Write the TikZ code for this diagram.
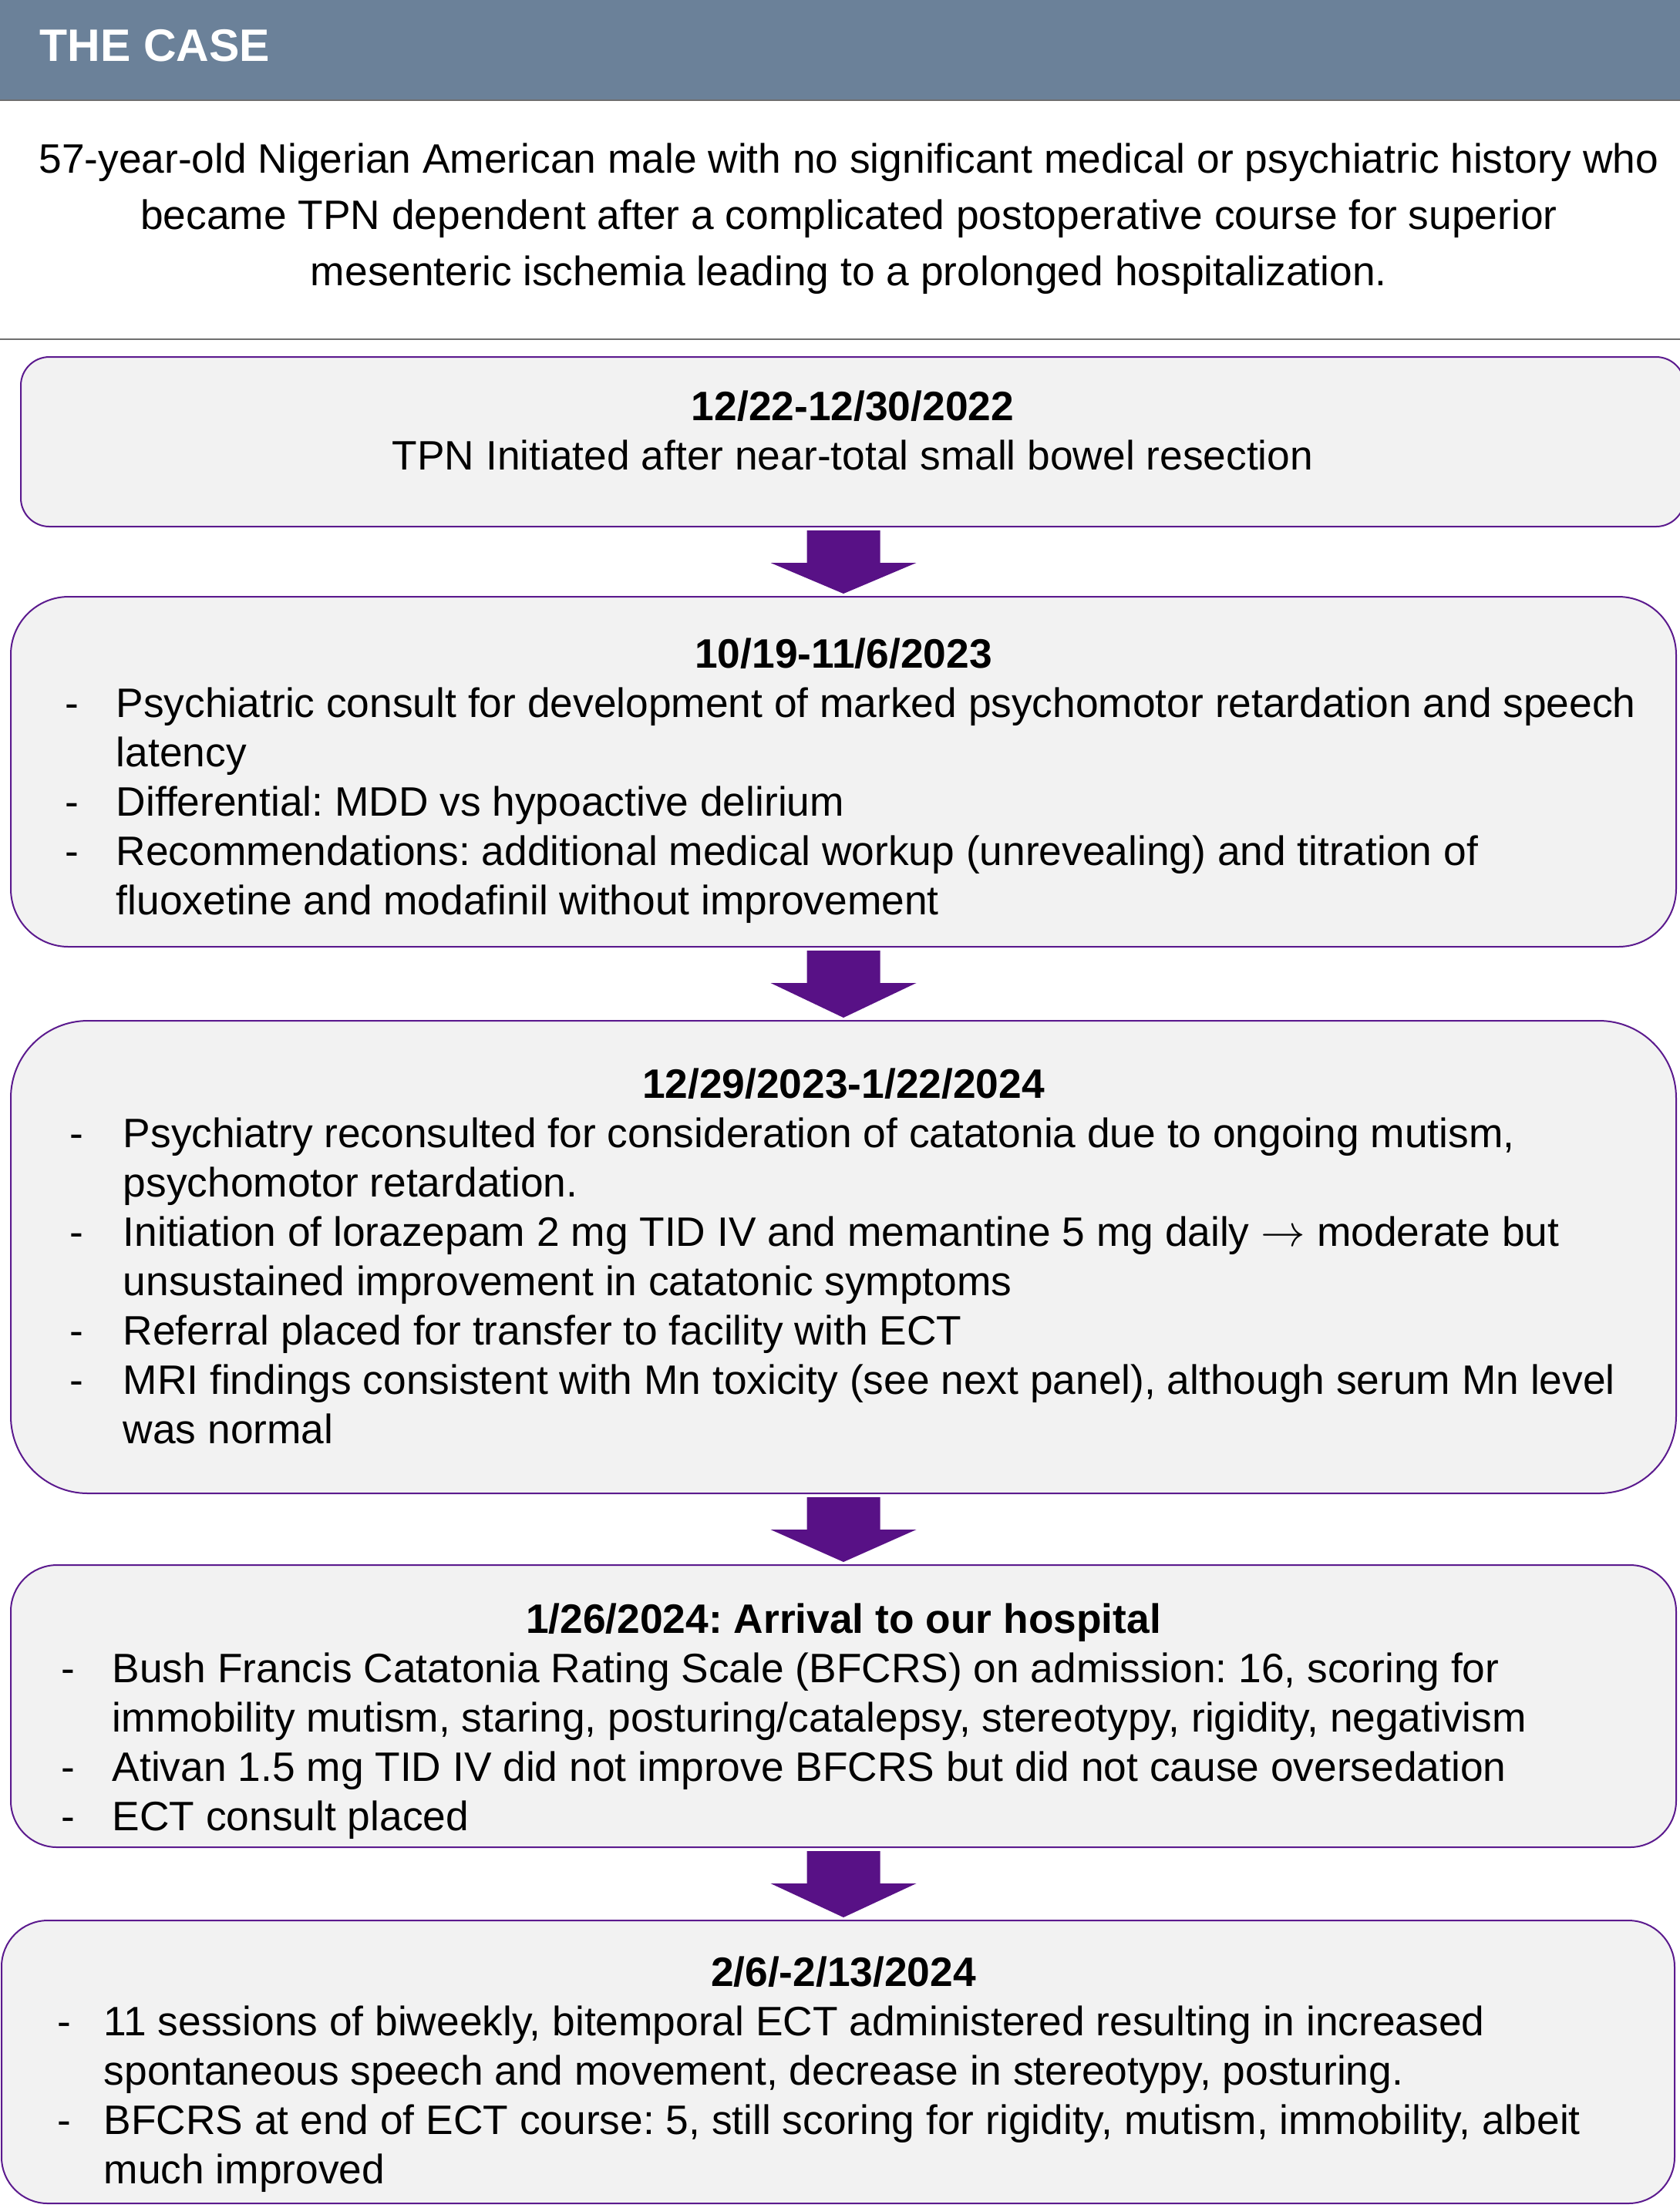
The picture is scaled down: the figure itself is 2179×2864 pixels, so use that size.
\documentclass[tikz,border=0pt]{standalone}
\usepackage{fontspec}
\setmainfont{Liberation Sans}
\usepackage{tikz}
\usetikzlibrary{calc,positioning}
\definecolor{headbar}{HTML}{6B8199}
\definecolor{boxfill}{HTML}{F2F2F2}
\definecolor{boxline}{HTML}{5B1A8E}
\definecolor{arrowfill}{HTML}{581186}
\definecolor{rulegrey}{HTML}{6F6F6F}
\newcommand{\dsh}[1][16.5pt]{\makebox[#1][l]{-}}
\newcommand{\cnt}[1][16.5pt]{\hspace*{#1}}
\newcommand{\topline}{\rule{0pt}{12pt}}
\frenchspacing

\begin{document}
\begin{tikzpicture}[x=0.25pt, y=-0.25pt,
   bodyfont/.style={font=\fontsize{13.33pt}{16pt}\selectfont},
   flowarrow/.style={fill=arrowfill}]
   \useasboundingbox (0,0) rectangle (2179,2864);
   \fill[headbar] (0,0) rectangle (2179,130);
   \draw[rulegrey, line width=0.5pt] (0,130) -- (2179,130);
   \draw[rulegrey, line width=0.5pt] (0,440) -- (2179,440);
   \node[anchor=base west, inner sep=0, text=white, font=\fontsize{14.75pt}{17pt}\selectfont\bfseries] (case) at (51,79) {THE CASE};
   \node[anchor=north, align=center, inner sep=0, font=\fontsize{13.33pt}{18.25pt}\selectfont] (intro) at (1101,176)
     {\topline 57-year-old Nigerian American male with no significant medical or psychiatric history who\\
      became TPN dependent after a complicated postoperative course for superior\\
      mesenteric ischemia leading to a prolonged hospitalization.};
   \coordinate (axis) at (1094,0);
   \begin{scope}[every node/.style={draw=boxline, fill=boxfill, line width=0.5pt, inner sep=0}]
    \node (b1) [minimum width=539.5pt, minimum height=55pt, rounded corners=9.25pt] at (1106,573) {};
    \node (b2) [minimum width=540pt, minimum height=113.5pt, rounded corners=18.75pt] at (1094,1001) {};
    \node (b3) [minimum width=540pt, minimum height=153.25pt, rounded corners=25pt] at (1094,1630.5) {};
    \node (b4) [minimum width=540pt, minimum height=91.5pt, rounded corners=15pt] at (1094,2213) {};
    \node (b5) [minimum width=542.5pt, minimum height=91.75pt, rounded corners=15pt] at (1087,2674.5) {};
   \end{scope}
   \begin{scope}[every node/.style={anchor=base, inner sep=0, font=\fontsize{13.33pt}{16pt}\selectfont\bfseries}]
    \node (d1) at (1106,545) {12/22-12/30/2022};
    \node (d2) at (1094,866) {10/19-11/6/2023};
    \node (d3) at (1094,1424) {12/29/2023-1/22/2024};
    \node (d4) at (1094,2118) {1/26/2024: Arrival to our hospital};
    \node (d5) at (1094,2576) {2/6/-2/13/2024};
   \end{scope}
   \begin{scope}[every node/.style={anchor=north west, align=left, inner sep=0, bodyfont}]
    \node (l1) [anchor=base, align=center] at (1106,609) {TPN Initiated after near-total small bowel resection};
    \node (l2) at (84,882) {\topline\dsh Psychiatric consult for development of marked psychomotor retardation and speech\\
      \cnt latency\\
      \dsh Differential: MDD vs hypoactive delirium\\
      \dsh Recommendations: additional medical workup (unrevealing) and titration of\\
      \cnt fluoxetine and modafinil without improvement};
    \node (l3) at (90,1440) {\topline\dsh[17.25pt]Psychiatry reconsulted for consideration of catatonia due to ongoing mutism,\\
      \cnt[17.25pt]psychomotor retardation.\\
      \dsh[17.25pt]Initiation of lorazepam 2 mg TID IV and memantine 5 mg daily $\rightarrow$ moderate but\\
      \cnt[17.25pt]unsustained improvement in catatonic symptoms\\
      \dsh[17.25pt]Referral placed for transfer to facility with ECT\\
      \dsh[17.25pt]MRI findings consistent with Mn toxicity (see next panel), although serum Mn level\\
      \cnt[17.25pt]was normal};
    \node (l4) at (79,2134) {\topline\dsh Bush Francis Catatonia Rating Scale (BFCRS) on admission: 16, scoring for\\
      \cnt immobility mutism, staring, posturing/catalepsy, stereotypy, rigidity, negativism\\
      \dsh Ativan 1.5 mg TID IV did not improve BFCRS but did not cause oversedation\\
      \dsh ECT consult placed};
    \node (l5) at (74,2592) {\topline\dsh[15pt]11 sessions of biweekly, bitemporal ECT administered resulting in increased\\
      \cnt[15pt]spontaneous speech and movement, decrease in stereotypy, posturing.\\
      \dsh[15pt]BFCRS at end of ECT course: 5, still scoring for rigidity, mutism, immobility, albeit\\
      \cnt[15pt]much improved};
   \end{scope}
   \foreach \a/\b in {b1/b2, b2/b3, b3/b4, b4/b5}
    \fill[flowarrow] ($(\a.south -| axis)+(-47.5,4)$) -- ++(95,0) -- ++(0,42) -- ++(47,0)
      -- ($(\b.north -| axis)+(0,-3)$) -- ($(\a.south -| axis)+(-94.5,46)$) -- ++(47,0) -- cycle;
\end{tikzpicture}
\end{document}
